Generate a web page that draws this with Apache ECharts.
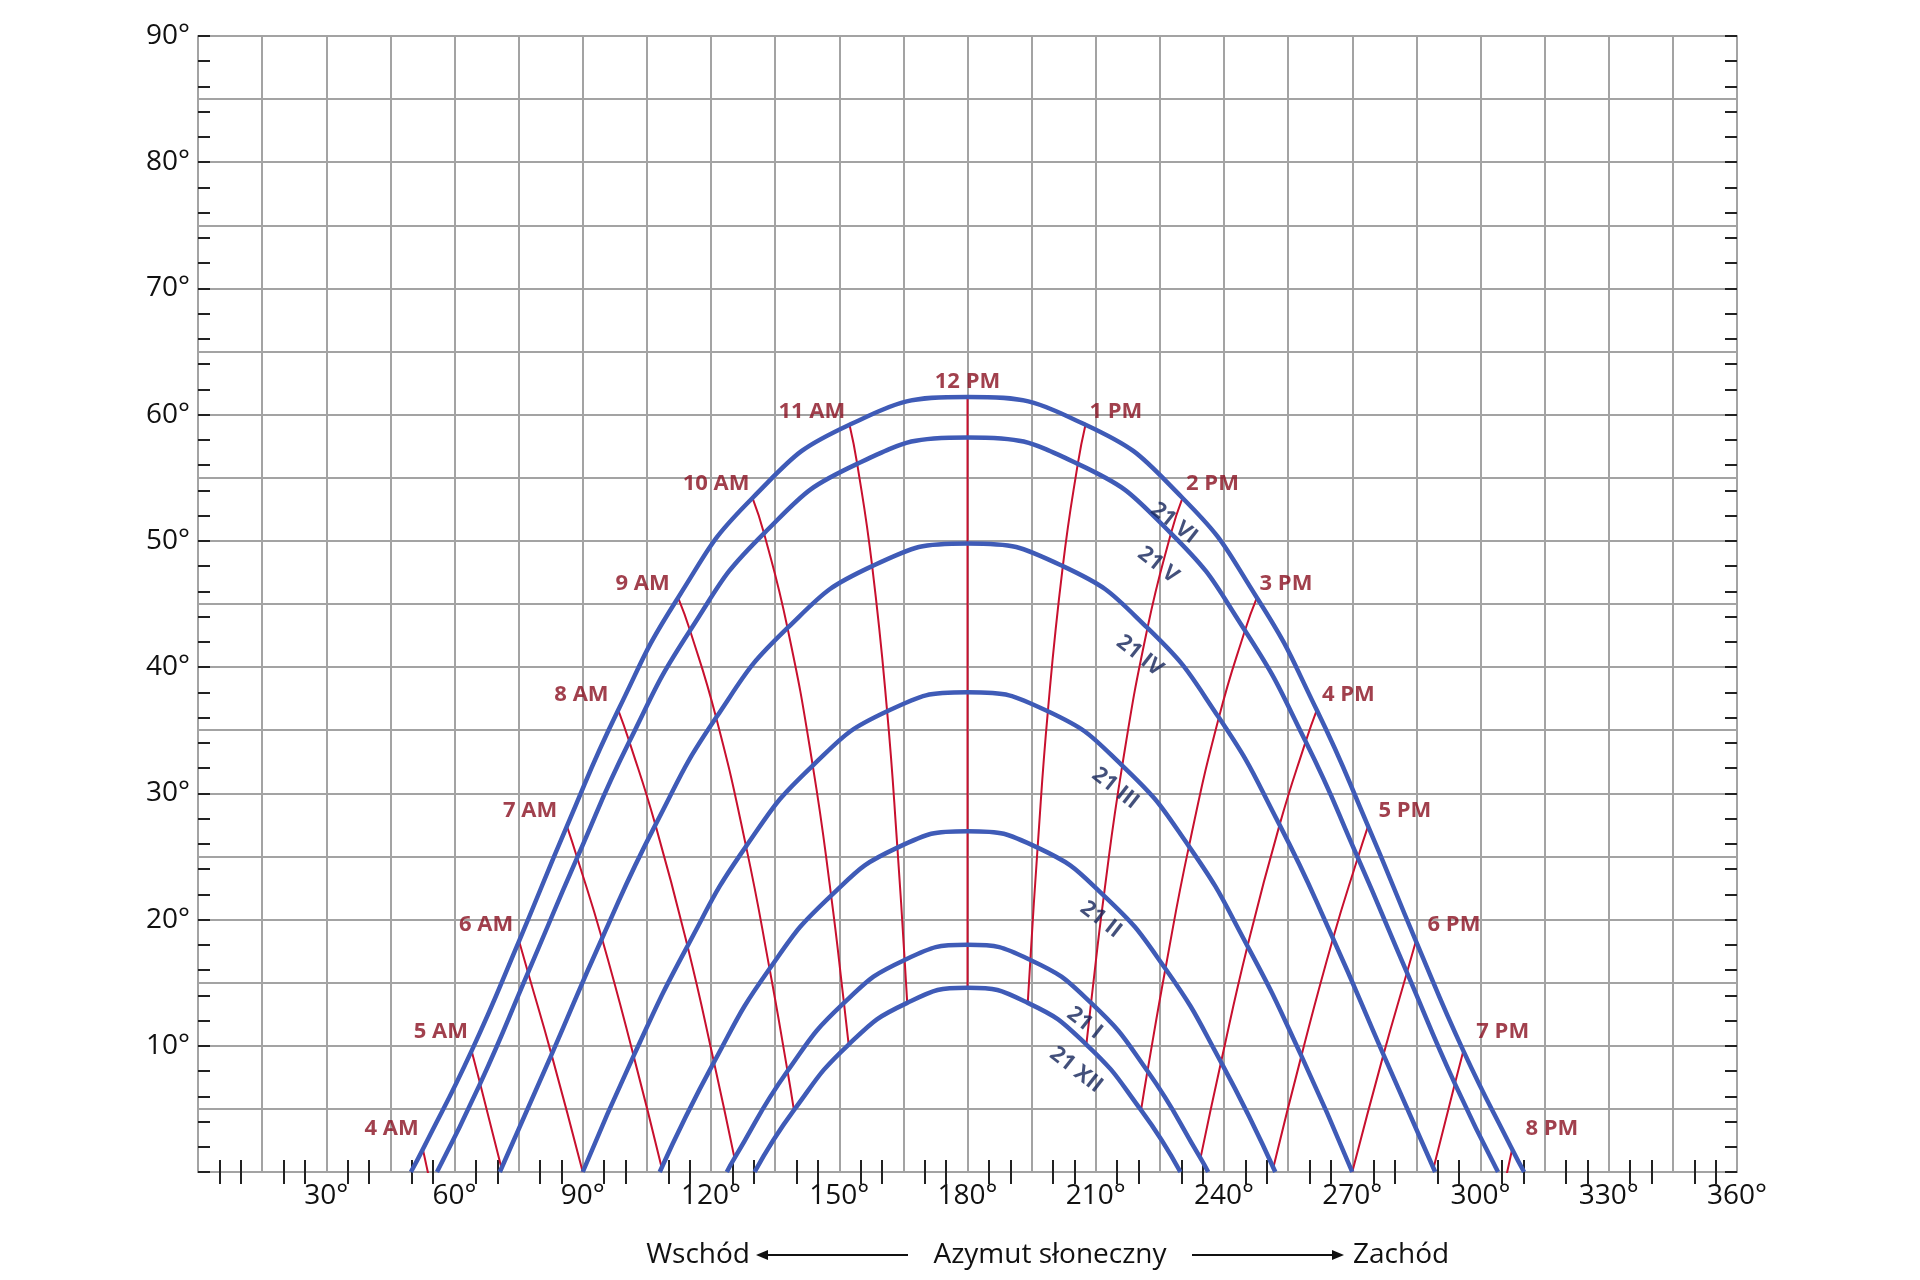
<!DOCTYPE html>
<html><head><meta charset="utf-8">
<script src="https://cdn.jsdelivr.net/npm/echarts@6/dist/echarts.min.js"></script>
<style>html,body{margin:0;padding:0;background:#fff}#c{width:1920px;height:1280px}</style>
</head><body><div id="c"></div>
<script>
// Sun path curves [azimuth, altitude]
const d21VI=[[49.8,0],[52.6,1.8],[64,9.6],[75.1,18.3],[86.3,27.4],[98.3,36.6],[112.3,45.5],[129.7,53.4],[152.4,59.2],[180,61.4],[207.6,59.2],[230.3,53.4],[247.7,45.5],[261.7,36.6],[273.7,27.4],[284.9,18.3],[296,9.6],[307.4,1.8],[310.2,0]];
const d21V=[[55.9,0],[66,7.0],[77.2,15.8],[88.7,24.9],[100.9,34.1],[115.1,42.9],[132.4,50.6],[154.2,56.1],[180,58.2],[205.8,56.1],[227.6,50.6],[244.9,42.9],[259.1,34.1],[271.3,24.9],[282.8,15.8],[294,7.0],[304.1,0]];
const d21IV=[[70.6,0],[82.7,9.3],[94.5,18.5],[107,27.5],[121.2,36],[137.9,43.1],[157.7,48],[180,49.8],[202.3,48],[222.1,43.1],[238.8,36],[253,27.5],[265.5,18.5],[277.3,9.3],[289.4,0]];
const d21III=[[90,0],[101.9,9.2],[114.5,17.9],[128.2,25.8],[143.8,32.2],[161.2,36.5],[180,38],[198.8,36.5],[216.2,32.2],[231.8,25.8],[245.5,17.9],[258.1,9.2],[270,0]];
const d21II=[[108,0],[120.7,8.7],[133.7,16.1],[148.1,21.9],[163.6,25.7],[180,27],[196.4,25.7],[211.9,21.9],[226.3,16.1],[239.3,8.7],[252,0]];
const d21I=[[123.7,0],[125.5,1.1],[137.9,8.0],[151.1,13.4],[165.3,16.8],[180,18],[194.7,16.8],[208.9,13.4],[222.1,8.0],[234.5,1.1],[236.3,0]];
const d21XII=[[130.2,0],[139.4,4.9],[152.2,10.1],[165.9,13.4],[180,14.6],[194.1,13.4],[207.8,10.1],[220.6,4.9],[229.8,0]];
const dayCurves=[d21VI,d21V,d21IV,d21III,d21II,d21I,d21XII];
const dayNames=['21 VI','21 V','21 IV','21 III','21 II','21 I','21 XII'];
const dayLabelPos=[[228.3,51.4],[224.6,48.1],[220.3,40.9],[214.6,30.4],[211.2,20.0],[207.4,11.8],[205.4,8.1]];

// Hour lines (from 21 VI down to 21 XII)
const h4am=[[52.6,1.8],[54.4,-1.0]];
const h5am=[[64,9.6],[66,7.0],[71,0.3]];
const h6am=[[75.1,18.3],[77.2,15.8],[82.7,9.3],[90,0]];
const h7am=[[86.3,27.4],[88.7,24.9],[94.5,18.5],[101.9,9.2],[108.5,0.3]];
const h8am=[[98.3,36.6],[100.9,34.1],[107,27.5],[114.5,17.9],[120.7,8.7],[125.5,1.1]];
const h9am=[[112.3,45.5],[115.1,42.9],[121.2,36],[128.2,25.8],[133.7,16.1],[137.9,8.0],[139.4,4.9]];
const h10am=[[129.7,53.4],[132.4,50.6],[137.9,43.1],[143.8,32.2],[148.1,21.9],[151.1,13.4],[152.2,10.1]];
const h11am=[[152.4,59.2],[154.2,56.1],[157.7,48],[161.2,36.5],[163.6,25.7],[165.3,16.8],[165.9,13.4]];
const h12pm=[[180,61.4],[180,14.6]];
const h1pm=[[207.6,59.2],[205.8,56.1],[202.3,48],[198.8,36.5],[196.4,25.7],[194.7,16.8],[194.1,13.4]];
const h2pm=[[230.3,53.4],[227.6,50.6],[222.1,43.1],[216.2,32.2],[211.9,21.9],[208.9,13.4],[207.8,10.1]];
const h3pm=[[247.7,45.5],[244.9,42.9],[238.8,36],[231.8,25.8],[226.3,16.1],[222.1,8.0],[220.6,4.9]];
const h4pm=[[261.7,36.6],[259.1,34.1],[253,27.5],[245.5,17.9],[239.3,8.7],[234.5,1.1]];
const h5pm=[[273.7,27.4],[271.3,24.9],[265.5,18.5],[258.1,9.2],[251.5,0.3]];
const h6pm=[[284.9,18.3],[282.8,15.8],[277.3,9.3],[270,0]];
const h7pm=[[296,9.6],[294,7.0],[289,0.3]];
const h8pm=[[307.4,1.8],[305.6,-1.0]];
const hourLines=[h4am,h5am,h6am,h7am,h8am,h9am,h10am,h11am,h12pm,h1pm,h2pm,h3pm,h4pm,h5pm,h6pm,h7pm,h8pm];
const hourNames=['4 AM','5 AM','6 AM','7 AM','8 AM','9 AM','10 AM','11 AM','12 PM','1 PM','2 PM','3 PM','4 PM','5 PM','6 PM','7 PM','8 PM'];
const hourLabelPos=[[45.3,3.4],[56.8,11.1],[67.4,19.6],[77.7,28.6],[89.7,37.8],[104,46.6],[121.2,54.5],[143.6,60.2],[180,62.6],[214.7,60.2],[237.3,54.5],[254.5,46.6],[269.1,37.8],[282.3,28.6],[293.8,19.6],[305.2,11.1],[316.7,3.4]];

const FONT='"Open Sans", "Noto Sans", sans-serif';
const gridCol='#a3a3a3';
const series=[];
hourLines.forEach((h,i)=>series.push({type:'line',data:h,smooth:true,symbol:'none',lineStyle:{color:'#c8102e',width:2},z:2}));
dayCurves.forEach((c,i)=>series.push({type:'line',data:c,smooth:true,symbol:'none',lineStyle:{color:'#3f5bb7',width:4.5},z:3}));
series.push({type:'scatter',symbolSize:0,z:5,silent:true,
  data:hourNames.map((n,i)=>({name:n,value:hourLabelPos[i]})),
  label:{show:true,position:'inside',formatter:p=>p.name,color:'#8a1020',fontFamily:FONT,fontWeight:'bold',fontSize:22}});
series.push({type:'scatter',symbolSize:0,z:5,silent:true,
  data:dayNames.map((n,i)=>({name:n,value:dayLabelPos[i]})),
  label:{show:true,position:'inside',rotate:-38,formatter:p=>p.name,color:'#14245a',fontFamily:FONT,fontWeight:'bold',fontSize:22}});

const minorX={show:true,splitNumber:3,length:12,lineStyle:{color:'#222',width:2}};
const chart=echarts.init(document.getElementById('c'));
chart.setOption({
  animation:false,
  grid:{left:198,right:183,top:36,bottom:108,containLabel:false},
  xAxis:[
    {type:'value',min:0,max:360,interval:15,position:'bottom',
     axisLine:{show:true,lineStyle:{color:gridCol,width:2}},
     axisTick:{show:false,inside:true},minorTick:minorX,
     splitLine:{show:true,lineStyle:{color:gridCol,width:2}},
     axisLabel:{margin:10,color:'#111',fontFamily:FONT,fontSize:28,formatter:v=>(v%30===0&&v>0)?v+'°':''}},
    {type:'value',min:0,max:360,interval:15,position:'top',
     axisLine:{show:true,lineStyle:{color:gridCol,width:2}},
     axisTick:{show:false,inside:true},minorTick:minorX,
     splitLine:{show:false},axisLabel:{show:false}}
  ],
  yAxis:[
    {type:'value',min:0,max:90,interval:5,position:'left',
     axisLine:{show:true,lineStyle:{color:gridCol,width:2}},
     axisTick:{show:false},
     splitLine:{show:true,lineStyle:{color:gridCol,width:2}},
     axisLabel:{margin:8,color:'#111',fontFamily:FONT,fontSize:28,formatter:v=>(v%10===0&&v>0)?v+'°':''}},
    {type:'value',min:0,max:90,interval:2,position:'left',
     axisLine:{show:false},axisTick:{show:true,inside:true,length:12,lineStyle:{color:'#222',width:2}},
     splitLine:{show:false},axisLabel:{show:false}},
    {type:'value',min:0,max:90,interval:2,position:'right',
     axisLine:{show:true,lineStyle:{color:gridCol,width:2}},axisTick:{show:true,inside:true,length:12,lineStyle:{color:'#222',width:2}},
     splitLine:{show:false},axisLabel:{show:false}}
  ],
  series:series,
  graphic:[
    {type:'text',left:null,x:750,y:1255,style:{text:'Wschód',fill:'#111',font:'28px '+FONT,textAlign:'right',textVerticalAlign:'middle'}},
    {type:'line',shape:{x1:760,y1:1255,x2:908,y2:1255},style:{stroke:'#111',lineWidth:2}},
    {type:'polygon',shape:{points:[[756,1255],[768,1250],[768,1260]]},style:{fill:'#111'}},
    {type:'text',x:1050,y:1255,style:{text:'Azymut słoneczny',fill:'#111',font:'28px '+FONT,textAlign:'center',textVerticalAlign:'middle'}},
    {type:'line',shape:{x1:1192,y1:1255,x2:1340,y2:1255},style:{stroke:'#111',lineWidth:2}},
    {type:'polygon',shape:{points:[[1344,1255],[1332,1250],[1332,1260]]},style:{fill:'#111'}},
    {type:'text',x:1353,y:1255,style:{text:'Zachód',fill:'#111',font:'28px '+FONT,textAlign:'left',textVerticalAlign:'middle'}}
  ]
});
</script></body></html>
